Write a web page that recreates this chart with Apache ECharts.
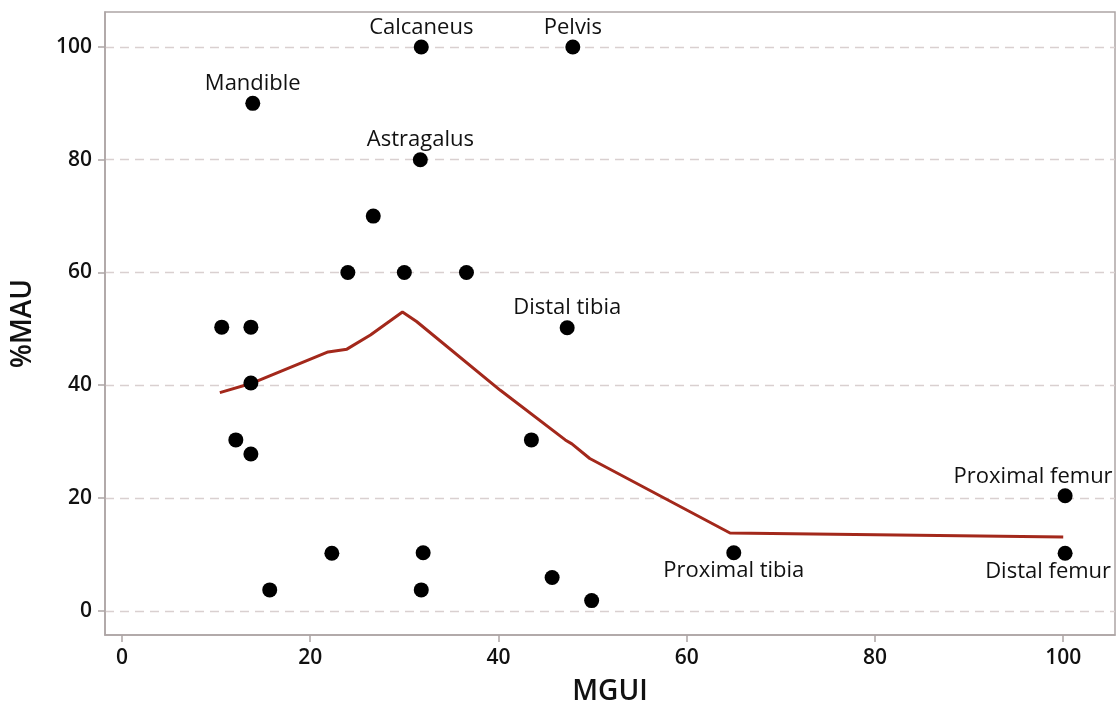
<!DOCTYPE html>
<html>
<head>
<meta charset="utf-8">
<script src="https://cdn.jsdelivr.net/npm/echarts@6/dist/echarts.min.js"></script>
<style>
  html, body { margin: 0; padding: 0; background: #ffffff; }
  #chart { width: 1118px; height: 712px; }
</style>
</head>
<body>
<div id="chart"></div>
<script>
// Skeletal element survival: %MAU plotted against the modified general utility index
const elementNames = ['Calcaneus', 'Pelvis', 'Mandible', 'Astragalus', '', '', '', '',
  '', '', '', '', '', 'Distal tibia', '', '', '', '', '', 'Proximal tibia', '', '',
  'Proximal femur', 'Distal femur'];
const mguiValues = [31.8, 47.9, 13.9, 31.7, 26.7, 24.0, 30.0, 36.6,
  10.6, 13.7, 13.7, 12.1, 13.7, 47.3, 43.5, 32.0, 31.8, 45.7, 49.9, 65.0, 15.7, 22.3,
  100.2, 100.2];
const mauValues = [100, 100, 90, 80, 70, 60, 60, 60,
  50.3, 50.3, 40.4, 30.3, 27.8, 50.2, 30.3, 10.3, 3.7, 5.9, 1.8, 10.3, 3.7, 10.2,
  20.4, 10.2];

// Fitted curve through the scatter
const curveX = [10.4, 13.7, 21.9, 23.9, 26.4, 29.8, 31.3, 40.2, 47.1, 47.8, 49.7, 64.6, 100];
const curveY = [38.7, 40.3, 45.9, 46.4, 48.9, 53.0, 51.3, 39.1, 30.3, 29.6, 27.0, 13.8, 13.1];

const tickValues = [0, 20, 40, 60, 80, 100];

// Where each element's label sits relative to its dot
const labelStyles = {
  'Proximal tibia': { position: 'bottom', distance: 0 },
  'Distal femur': { position: 'bottom', distance: 0, offset: [-17, 0] },
  'Proximal femur': { position: 'top', distance: 1, offset: [-32, 0] }
};

const axisGrey = '#ada5a5';
const textFont = '"Open Sans", "Noto Sans", sans-serif';

const scatterData = mguiValues.map((x, i) => {
  const name = elementNames[i];
  const item = { value: [x, mauValues[i]], name: name };
  if (name) {
    const st = labelStyles[name] || { position: 'top', distance: 1 };
    item.label = Object.assign({ show: true }, st);
  }
  return item;
});

const chart = echarts.init(document.getElementById('chart'), null, { renderer: 'canvas' });
chart.setOption({
  animation: false,
  backgroundColor: '#ffffff',
  grid: {
    left: 105, right: 3, top: 12, bottom: 77,
    show: true, borderColor: axisGrey, borderWidth: 1.5, backgroundColor: '#ffffff'
  },
  xAxis: {
    type: 'value',
    min: -1.8, max: 105.5,
    name: 'MGUI',
    nameLocation: 'middle',
    nameGap: 43,
    nameTextStyle: { fontFamily: textFont, fontSize: 28, fontWeight: 600, color: '#111111' },
    axisLine: { show: true, onZero: false, lineStyle: { color: axisGrey, width: 1.5 } },
    axisTick: { show: true, length: 7, customValues: tickValues, lineStyle: { color: axisGrey, width: 1.5 } },
    axisLabel: { customValues: tickValues, margin: 13, fontFamily: textFont, fontSize: 21, fontWeight: 600, color: '#111111' },
    splitLine: { show: false }
  },
  yAxis: {
    type: 'value',
    min: -4.3, max: 106.2,
    name: '%MAU',
    nameLocation: 'middle',
    nameGap: 68,
    nameRotate: 90,
    nameTextStyle: { fontFamily: textFont, fontSize: 28, fontWeight: 600, color: '#111111' },
    axisLine: { show: true, onZero: false, lineStyle: { color: axisGrey, width: 1.5 } },
    axisTick: { show: true, length: 7, customValues: tickValues, lineStyle: { color: axisGrey, width: 1.5 } },
    axisLabel: { customValues: tickValues, margin: 13, fontFamily: textFont, fontSize: 21, fontWeight: 600, color: '#111111' },
    splitLine: { show: true, lineStyle: { color: '#d9d0d0', type: [9, 6], width: 1.3 } }
  },
  series: [
    {
      type: 'line',
      data: curveX.map((x, i) => [x, curveY[i]]),
      showSymbol: false,
      symbol: 'none',
      lineStyle: { color: '#a3281b', width: 3 },
      z: 2
    },
    {
      type: 'scatter',
      data: scatterData,
      symbol: 'circle',
      symbolSize: 15,
      itemStyle: { color: '#000000', opacity: 1 },
      label: {
        show: false,
        formatter: '{b}',
        fontFamily: textFont,
        fontSize: 22,
        color: '#111111'
      },
      z: 3
    }
  ]
});
</script>
</body>
</html>
